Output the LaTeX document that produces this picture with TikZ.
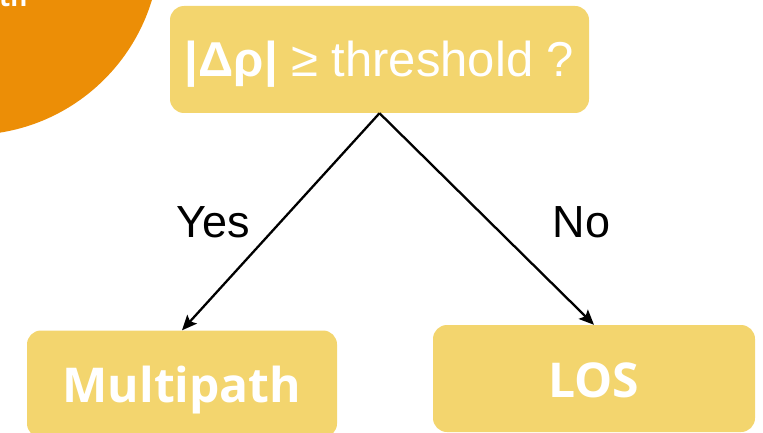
\documentclass[tikz,border=0pt]{standalone}
\usepackage{fontspec}
\setmainfont{Liberation Sans}
\newfontfamily\opensans{Open Sans}
\usepackage{xcolor}
\usetikzlibrary{arrows.meta,positioning}
\definecolor{orange}{HTML}{EC8E06}
\definecolor{gold}{HTML}{F3D56E}

\begin{document}
\begin{tikzpicture}[
  x=1pt,y=-1pt,
  test/.style={fill=gold,text=white,rounded corners=14pt,minimum width=419pt,minimum height=107pt,
    font=\fontsize{49}{52}\selectfont,text height=44pt,text depth=10pt,inner sep=0pt},
  result/.style={fill=gold,text=white,rounded corners=14pt,minimum height=107pt,
    font=\opensans\bfseries\fontsize{48}{52}\selectfont,text height=46pt,text depth=9pt,inner sep=0pt},
  answer/.style={font=\fontsize{45}{50}\selectfont,anchor=base},
  arr/.style={-{Stealth[length=15pt,width=13pt,inset=3pt]},line width=2.3pt,draw=black}
]
\useasboundingbox (0,0) rectangle (763,433);
\fill[orange] (-30,-55) circle (190);
\node[text=white,anchor=base east,font=\opensans\bfseries\fontsize{26}{30}\selectfont] (cut) at (31,7) {ath};
\node[test] (q) at (379.5,59.5) {\textbf{|Δρ|} ≥ threshold ?};
\node[result,minimum width=310pt] (multi) at (182,384) {Multipath};
\node[result,minimum width=322pt] (los) at (594,378.5) {LOS};
\draw[arr] (q.south)--(multi.north); \draw[arr] (q.south)--(los.north);
\node[answer] (yes) at (213.5,237) {Yes};
\node[answer] (no) at (581.5,237) {No};
\end{tikzpicture}
\end{document}
